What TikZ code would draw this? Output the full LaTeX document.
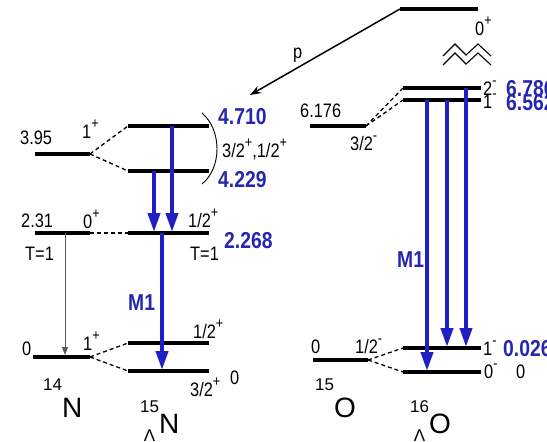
\documentclass[tikz,border=0pt]{standalone}
\usepackage{fontspec}
\usepackage{tikz}
\usetikzlibrary{arrows.meta}
\setmainfont{Liberation Sans}
\newfontfamily\labfont{Liberation Sans}[FakeStretch=0.84]
\definecolor{gblue}{HTML}{1F1FC4}
\definecolor{tblue}{HTML}{2626B0}

%% isotope labels and spin-parity
\newcommand{\nuc}[2]{\raisebox{27pt}{\fontsize{17}{17}\selectfont #1}#2}
\newcommand{\hnuc}[2]{\raisebox{-8pt}{\fontsize{17}{17}\selectfont
  \begin{tabular}[b]{@{}c@{}}#1\\[12pt]Λ\end{tabular}}#2}
\newcommand{\spn}[1]{\raisebox{0.5em}{\fontsize{15}{15}\selectfont #1}}

\tikzset{
  lev/.style={line width=4pt},
  link/.style={line width=1.3pt, dash pattern=on 4pt off 3pt},
  gam/.style={gblue, line width=4pt, -{Triangle[length=19pt,width=12pt]}},
  lab/.style={font=\labfont\fontsize{19.5}{21}\selectfont, inner sep=0pt, anchor=base west},
  ener/.style={tblue, font=\labfont\fontsize{23}{25}\selectfont\bfseries, inner sep=0pt, anchor=base west},
  nucl/.style={font=\fontsize{28}{30}\selectfont, inner sep=0pt, anchor=base west}
}

\begin{document}
\begin{tikzpicture}[x=1pt, y=-1pt]

    \fill[white] (0,0) rectangle (547,442);
    \useasboundingbox (0,0) rectangle (547,442);

    %% ── 14N ───────────────────────────────────────────────────────────
    \coordinate (n395L) at (35,154);  \coordinate (n395R) at (90,154);
    \coordinate (n231L) at (35,233);  \coordinate (n231R) at (90,233);
    \coordinate (n0L)   at (33,357);  \coordinate (n0R)   at (90,357);
    \draw[lev] (n395L) -- (n395R);
    \draw[lev] (n231L) -- (n231R);
    \draw[lev] (n0L) -- (n0R);

    \node[lab] (t395) at (20,144) {3.95};
    \node[lab] (j395) at (82,138) {1\spn{+}};
    \node[lab] (t231) at (21,227) {2.31};
    \node[lab] (j231) at (83,228) {0\spn{+}};
    \node[lab] (iso1) at (25,260) {T=1};
    \node[lab] (t0n)  at (22,355) {0};
    \node[lab] (j0n)  at (83,350) {1\spn{+}};
    \node[nucl] (n14) at (43,417) {\nuc{14}{N}};

    % T=1 decay
    \coordinate (gn1) at (65,233);  \coordinate (gn2) at (65,355);
    \draw[gray!70!black, line width=0.9pt, -{Triangle[length=8pt,width=6pt]}]
      (gn1) -- (gn2);

    %% ── 15_Lambda N ────────────────────────────────────────────────────
    \coordinate (b471L) at (128,126); \coordinate (b471R) at (209,126);
    \coordinate (b423L) at (128,171); \coordinate (b423R) at (209,171);
    \coordinate (b227L) at (128,233); \coordinate (b227R) at (209,233);
    \coordinate (b1L)   at (128,343); \coordinate (b1R)   at (209,343);
    \coordinate (b0L)   at (128,371); \coordinate (b0R)   at (209,371);
    \foreach \lv in {b471, b423, b227, b1, b0}
      \draw[lev] (\lv L) -- (\lv R);

    \draw[link] (n395R) -- (b471L);
    \draw[link] (n395R) -- (b423L);
    \draw[link] (n231R) -- (b227L);
    \draw[link] (n0R) -- (b1L);
    \draw[link] (n0R) -- (b0L);

    % doublet bracket
    \draw[line width=0.9pt] (202,113) .. controls (222,130) and (222,168) .. (202,184);

    \node[ener] (e471) at (218,124) {4.710};
    \node[ener] (e423) at (218,187) {4.229};
    \node[lab]  (j471) at (222,157) {3/2\spn{+},1/2\spn{+}};
    \node[lab]  (j227) at (188,227) {1/2\spn{+}};
    \node[ener] (e227) at (224,248) {2.268};
    \node[lab]  (iso2) at (190,260) {T=1};
    \node[ener] (m1a)  at (128,310) {M1};
    \node[lab]  (j1b)  at (193,338) {1/2\spn{+}};
    \node[lab]  (j0b)  at (190,396) {3/2\spn{+}};
    \node[lab]  (t0b)  at (230,384) {0};
    \node[nucl] (n15) at (140,433) {\hnuc{15}{N}};

    % gamma transitions
    \coordinate (gb1) at (154,171); \coordinate (gb2) at (154,232);
    \coordinate (gb3) at (172,126); \coordinate (gb4) at (172,232);
    \coordinate (gb5) at (162,233); \coordinate (gb6) at (162,370);
    \draw[gam] (gb1) -- (gb2);
    \draw[gam] (gb3) -- (gb4);
    \draw[gam] (gb5) -- (gb6);

    %% ── 16O 0+ and proton ─────────────────────────────────────────────
    \coordinate (o0pL) at (400,9); \coordinate (o0pR) at (478,9);
    \draw[lev] (o0pL) -- (o0pR);
    \node[lab] (j0p) at (475,35) {0\spn{+}};
    \coordinate (ptip) at (250,95);
    \draw[line width=1.5pt, -{Stealth[length=11pt,width=8pt]}] (o0pL) -- (ptip);
    \node[lab] (plab) at (293,58) {p};

    % axis break
    \foreach \dy in {0,9}
      \draw[line width=1.1pt] (443,56+\dy) -- (455,44+\dy) -- (466,55+\dy)
        -- (478,44+\dy) -- (491,56+\dy);

    %% ── 15O ───────────────────────────────────────────────────────────
    \coordinate (o617L) at (310,126); \coordinate (o617R) at (366,126);
    \coordinate (o0L)   at (313,360); \coordinate (o0R)   at (368,360);
    \draw[lev] (o617L) -- (o617R);
    \draw[lev] (o0L) -- (o0R);
    \node[lab] (t617) at (300,117) {6.176};
    \node[lab] (j617) at (350,150) {3/2\spn{-}};
    \node[lab] (t0o)  at (311,353) {0};
    \node[lab] (j0o)  at (355,353) {1/2\spn{-}};
    \node[nucl] (o15) at (315,417) {\nuc{15}{O}};

    %% ── 16_Lambda O ────────────────────────────────────────────────────
    \coordinate (h679L) at (403,88);  \coordinate (h679R) at (481,88);
    \coordinate (h656L) at (403,100); \coordinate (h656R) at (481,100);
    \coordinate (h003L) at (403,348); \coordinate (h003R) at (481,348);
    \coordinate (h0L)   at (403,372); \coordinate (h0R)   at (481,372);
    \foreach \lv in {h679, h656, h003, h0}
      \draw[lev] (\lv L) -- (\lv R);

    \draw[link] (o617R) -- (h679L);
    \draw[link] (o617R) -- (h656L);
    \draw[link] (o0R) -- (h003L);
    \draw[link] (o0R) -- (h0L);

    \node[lab]  (j679) at (483,95)  {2\spn{-}};
    \node[ener] (e679) at (506,96)  {6.786};
    \node[lab]  (j656) at (483,108) {1\spn{-}};
    \node[ener] (e656) at (506,110) {6.562};
    \node[lab]  (j003) at (483,355) {1\spn{-}};
    \node[ener] (e003) at (503,356) {0.026};
    \node[lab]  (j0h)  at (484,378) {0\spn{-}};
    \node[lab]  (t0h)  at (516,378) {0};
    \node[ener] (m1b)  at (397,267) {M1};
    \node[nucl] (o16) at (410,433) {\hnuc{16}{O}};

    % gamma transitions
    \coordinate (gh1) at (427,100); \coordinate (gh2) at (427,371);
    \coordinate (gh3) at (447,100); \coordinate (gh4) at (447,347);
    \coordinate (gh5) at (466,88);  \coordinate (gh6) at (466,347);
    \draw[gam] (gh1) -- (gh2);
    \draw[gam] (gh3) -- (gh4);
    \draw[gam] (gh5) -- (gh6);

\end{tikzpicture}
\end{document}
